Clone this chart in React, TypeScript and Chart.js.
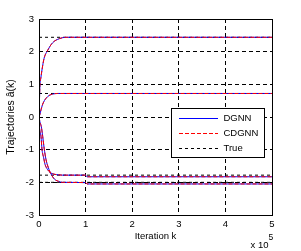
import React, { useEffect, useRef } from 'react';
import { Chart, registerables } from 'chart.js';

Chart.register(...registerables);

// ---- data (k in units of 10^5 iterations) ----
const xTickValues = [0, 1, 2, 3, 4, 5];
const yTickValues = [-3, -2, -1, 0, 1, 2, 3];

const k1 = [0, 0.02, 0.04, 0.064, 0.11, 0.19, 0.29, 0.44, 0.58, 5];
const a1 = [0, 0.95, 1.2, 1.44, 1.8, 2.05, 2.27, 2.4, 2.44, 2.44];

const k2 = [0, 0.02, 0.043, 0.09, 0.19, 0.29, 0.4, 5];
const a2 = [0, 0.08, 0.22, 0.43, 0.63, 0.7, 0.72, 0.72];

const k3 = [0, 0.01, 0.043, 0.065, 0.1, 0.13, 0.18, 0.24, 0.32, 0.42, 0.5, 1.0, 1.03, 5];
const a3 = [0, -0.3, -0.6, -1.0, -1.25, -1.45, -1.6, -1.7, -1.75, -1.77, -1.78, -1.78, -1.83, -1.83];

const k4 = [0, 0.02, 0.05, 0.08, 0.11, 0.15, 0.2, 0.26, 0.33, 0.42, 0.5, 1.0, 1.03, 5];
const a4 = [0, -0.15, -0.3, -0.6, -0.95, -1.3, -1.55, -1.75, -1.9, -1.97, -2.0, -2.01, -2.05, -2.05];

const trueValues = [2.44, 0.72, -1.78, -2.0];
const kRange = [0, 5];

const seriesNames = ['DGNN', 'CDGNN', 'True'];
const seriesColors = ['#0000ff', '#ff0000', '#000000'];
const seriesDashes = [[], [4, 2], [3, 3]];

const xTitle = 'Iteration k';
const yTitle = 'Trajectories \u00e2(k)';
const xExponentBase = 'x 10';
const xExponent = '5';

const FONT = '"Liberation Sans", Arial, Helvetica, sans-serif';

const curves: Array<[number[], number[]]> = [
  [k1, a1],
  [k2, a2],
  [k3, a3],
  [k4, a4],
];

function pts(ks: number[], vs: number[]) {
  return ks.map((k, i) => ({ x: k, y: vs[i] }));
}

const extrasPlugin = {
  id: 'extras',
  afterDraw(chart: any) {
    const { ctx, chartArea: ca } = chart;
    ctx.save();
    ctx.setLineDash([]);
    ctx.strokeStyle = '#000';
    ctx.lineWidth = 1;
    const l = Math.round(ca.left) + 0.5;
    const t = Math.round(ca.top) + 0.5;
    const r = Math.round(ca.right) + 0.5;
    const b = Math.round(ca.bottom) + 0.5;
    ctx.strokeRect(l, t, r - l, b - t);

    // legend
    const bw = 93;
    const bh = 49;
    const bx = r - 8 - bw;
    const by = t + 89;
    ctx.fillStyle = '#fff';
    ctx.fillRect(bx, by, bw, bh);
    ctx.strokeStyle = '#000';
    ctx.strokeRect(bx, by, bw, bh);
    ctx.font = `9.5px ${FONT}`;
    ctx.textBaseline = 'middle';
    ctx.textAlign = 'left';
    seriesNames.forEach((name, i) => {
      const yRow = Math.round(by + 9 + i * 15.2);
      const x0 = Math.round(bx + 7);
      const x1 = Math.round(bx + 46);
      ctx.fillStyle = seriesColors[i];
      const dash = seriesDashes[i];
      if (dash.length === 0) {
        ctx.fillRect(x0, yRow, x1 - x0, 1);
      } else {
        for (let x = x0; x < x1; x += dash[0] + dash[1]) {
          ctx.fillRect(x, yRow, Math.min(dash[0], x1 - x), 1);
        }
      }
      ctx.fillStyle = '#000';
      ctx.fillText(name, bx + 52, yRow + 0.5);
    });

    // x 10^5 multiplier
    ctx.fillStyle = '#000';
    ctx.textBaseline = 'alphabetic';
    ctx.font = `9.5px ${FONT}`;
    ctx.fillText(xExponentBase, r - 22, chart.height - 3);
    ctx.font = `8.5px ${FONT}`;
    ctx.fillText(xExponent, r - 4, chart.height - 11);
    ctx.restore();
  },
};

export default function App() {
  const ref = useRef<HTMLCanvasElement>(null);
  useEffect(() => {
    if (!ref.current) return;
    const datasets: any[] = [];
    curves.forEach(([ks, vs]) => {
      datasets.push({
        label: seriesNames[1],
        data: pts(ks, vs),
        borderColor: seriesColors[1],
        borderDash: seriesDashes[1],
        borderWidth: 1,
        pointRadius: 0,
        cubicInterpolationMode: 'monotone',
        order: 0,
      });
      datasets.push({
        label: seriesNames[0],
        data: pts(ks, vs),
        borderColor: seriesColors[0],
        borderDash: seriesDashes[0],
        borderWidth: 1,
        pointRadius: 0,
        cubicInterpolationMode: 'monotone',
        order: 1,
      });
    });
    trueValues.forEach((v) => {
      datasets.push({
        label: seriesNames[2],
        data: kRange.map((k) => ({ x: k, y: v })),
        borderColor: seriesColors[2],
        borderDash: seriesDashes[2],
        borderWidth: 1,
        pointRadius: 0,
        order: 2,
      });
    });

    const tickFont = { family: FONT, size: 9.5 };
    const chart = new Chart(ref.current, {
      type: 'line',
      data: { datasets },
      plugins: [extrasPlugin],
      options: {
        responsive: false,
        animation: false,
        events: [],
        layout: { padding: { top: 19, right: 29, left: 0, bottom: 0 } },
        plugins: { legend: { display: false }, tooltip: { enabled: false } },
        scales: {
          x: {
            type: 'linear',
            min: 0,
            max: 5,
            afterFit: (s: any) => { s.height = 36; },
            afterBuildTicks: (s: any) => { s.ticks = xTickValues.map((v) => ({ value: v })); },
            ticks: { color: '#000', font: tickFont, padding: 4, maxRotation: 0 },
            grid: { color: '#000', lineWidth: 1, drawTicks: false },
            border: { display: false, dash: [4, 3] },
            title: { display: true, text: xTitle, color: '#000', font: { family: FONT, size: 9.5 }, padding: { top: 0, bottom: 9 } },
          },
          y: {
            type: 'linear',
            min: -3,
            max: 3,
            afterFit: (s: any) => { s.width = 39; },
            afterBuildTicks: (s: any) => { s.ticks = yTickValues.map((v) => ({ value: v })); },
            ticks: { color: '#000', font: tickFont, padding: 5 },
            grid: { color: '#000', lineWidth: 1, drawTicks: false },
            border: { display: false, dash: [4, 3] },
            title: { display: true, text: yTitle, color: '#000', font: { family: FONT, size: 10.5 }, padding: { top: 5, bottom: 0 } },
          },
        },
      },
    });
    return () => chart.destroy();
  }, []);
  return (
    <div style={{ position: 'fixed', left: 0, top: 0, width: 301, height: 251, background: '#fff' }}>
      <canvas ref={ref} width={301} height={251} style={{ display: 'block' }} />
    </div>
  );
}
